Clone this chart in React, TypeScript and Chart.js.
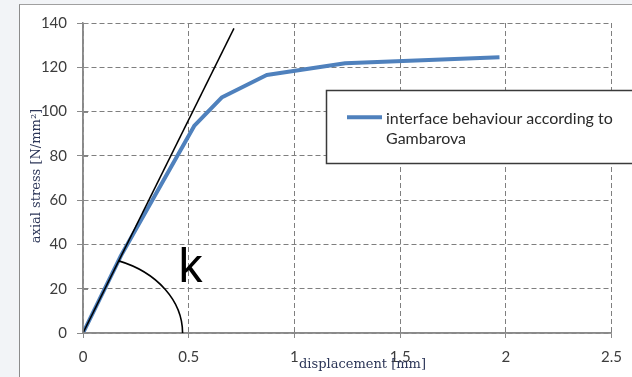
import React, { useEffect, useRef } from "react";
import { Chart, registerables } from "chart.js";

Chart.register(...registerables);

// ---- data ----
const SERIES_LABEL = "interface behaviour according to Gambarova";
const DISPLACEMENT = [0, 0.18, 0.526, 0.658, 0.869, 1.24, 1.97];
const STRESS = [0, 35, 93.5, 106.5, 116.5, 121.8, 124.5];

const TANGENT_X = [0, 0.714];
const TANGENT_Y = [0, 137.6];

const ARC_RX = 0.471; // mm
const ARC_RY = 34.9; // N/mm²
const K_LABEL = "k";
const K_POS = [0.452, 23.2];

const X_TICKS = [0, 0.5, 1, 1.5, 2, 2.5];
const X_TICK_LABELS = ["0", "0.5", "1", "1.5", "2", "2.5"];
const Y_TICKS = [0, 20, 40, 60, 80, 100, 120, 140];
const Y_TICK_LABELS = ["0", "20", "40", "60", "80", "100", "120", "140"];

const X_TITLE = "displacement [mm]";
const Y_TITLE = "axial stress [N/mm²]";

const LEGEND_LINES = ["interface behaviour according to", "Gambarova"];

const BLUE = "#4F81BD";
const GRID = "#7f7f7f";
const AXIS = "#8a8a8a";
const TICK_COLOR = "#3c3c3c";
const TITLE_COLOR = "#2b3557";

const decorPlugin = {
  id: "decor",
  afterDatasetsDraw(chart: any) {
    const ctx = chart.ctx;
    const xs = chart.scales.x;
    const ys = chart.scales.y;
    const cx = xs.getPixelForValue(0);
    const cy = ys.getPixelForValue(0);
    const area = chart.chartArea;

    // solid axis lines + inner half of y tick marks
    ctx.save();
    ctx.strokeStyle = AXIS;
    ctx.lineWidth = 1.5;
    ctx.setLineDash([]);
    ctx.beginPath();
    ctx.moveTo(cx, area.top);
    ctx.lineTo(cx, cy);
    ctx.lineTo(area.right, cy);
    ctx.stroke();
    ctx.lineWidth = 1;
    Y_TICKS.forEach((v) => {
      const py = Math.round(ys.getPixelForValue(v)) + 0.5;
      ctx.beginPath();
      ctx.moveTo(cx, py);
      ctx.lineTo(cx + 5, py);
      ctx.stroke();
    });
    ctx.restore();

    // angle arc
    const rx = xs.getPixelForValue(ARC_RX) - cx;
    const ry = cy - ys.getPixelForValue(ARC_RY);
    const dx = xs.getPixelForValue(TANGENT_X[1]) - cx;
    const dy = cy - ys.getPixelForValue(TANGENT_Y[1]);
    const t = Math.atan2(dy / ry, dx / rx);
    ctx.save();
    ctx.strokeStyle = "#000";
    ctx.lineWidth = 1.6;
    ctx.beginPath();
    ctx.ellipse(cx, cy, rx, ry, 0, -t, 0);
    ctx.stroke();

    // k label
    ctx.fillStyle = "#000";
    ctx.font = "48px 'Liberation Sans'";
    ctx.textAlign = "left";
    ctx.textBaseline = "alphabetic";
    ctx.fillText(K_LABEL, xs.getPixelForValue(K_POS[0]), ys.getPixelForValue(K_POS[1]));
    ctx.restore();
  },
  afterDraw(chart: any) {
    const ctx = chart.ctx;
    const ds = chart.data.datasets[1];
    // legend box
    const bx = 326.5, by = 90.5, bw = 310, bh = 73;
    ctx.save();
    ctx.fillStyle = "#fff";
    ctx.fillRect(bx, by, bw, bh);
    ctx.strokeStyle = "#3a3a3a";
    ctx.lineWidth = 1.5;
    ctx.strokeRect(bx, by, bw, bh);
    ctx.strokeStyle = ds.borderColor;
    ctx.lineWidth = 4;
    ctx.beginPath();
    ctx.moveTo(347, 117.3);
    ctx.lineTo(382, 117.3);
    ctx.stroke();
    ctx.fillStyle = "#2a2a2a";
    ctx.font = "16px Lato";
    ctx.textBaseline = "alphabetic";
    ctx.textAlign = "left";
    ctx.fillText(LEGEND_LINES[0], 386, 123.5);
    ctx.fillText(LEGEND_LINES[1], 386, 144);

    // axis titles
    ctx.fillStyle = TITLE_COLOR;
    ctx.font = "13px 'DejaVu Serif'";
    ctx.textAlign = "center";
    ctx.fillText(X_TITLE, 362.5, 368);
    ctx.translate(40, 176);
    ctx.rotate(-Math.PI / 2);
    ctx.fillText(Y_TITLE, 0, 0);
    ctx.restore();
  },
};

export default function App() {
  const ref = useRef<HTMLCanvasElement | null>(null);

  useEffect(() => {
    if (!ref.current) return;
    const chart = new Chart(ref.current, {
      type: "line",
      data: {
        datasets: [
          {
            label: "tangent",
            data: TANGENT_X.map((x, i) => ({ x, y: TANGENT_Y[i] })),
            borderColor: "#000",
            borderWidth: 1.5,
            pointRadius: 0,
            tension: 0,
            order: 0,
          },
          {
            label: SERIES_LABEL,
            data: DISPLACEMENT.map((x, i) => ({ x, y: STRESS[i] })),
            borderColor: BLUE,
            borderWidth: 4,
            pointRadius: 0,
            tension: 0,
            borderJoinStyle: "round",
            order: 1,
          },
        ],
      },
      options: {
        responsive: false,
        animation: false,
        layout: { padding: { left: 0, top: 23, right: 17, bottom: 0 } },
        plugins: {
          legend: { display: false },
          tooltip: { enabled: false },
          title: { display: false },
        },
        scales: {
          x: {
            type: "linear",
            min: 0,
            max: 2.5,
            afterBuildTicks: (s: any) => {
              s.ticks = X_TICKS.map((v) => ({ value: v }));
            },
            afterFit: (s: any) => {
              s.height = 44;
            },
            ticks: {
              callback: (_v: any, i: number) => X_TICK_LABELS[i],
              color: TICK_COLOR,
              font: { family: "Lato", size: 15 },
              padding: 10,
              maxRotation: 0,
            },
            grid: {
              color: GRID,
              lineWidth: 1,
              drawTicks: true,
              tickLength: 5,
              tickColor: AXIS,
              tickBorderDash: [],
            },
            border: { display: true, color: AXIS, width: 1.5, dash: [5, 3] },
          },
          y: {
            type: "linear",
            min: 0,
            max: 140,
            afterBuildTicks: (s: any) => {
              s.ticks = Y_TICKS.map((v) => ({ value: v }));
            },
            afterFit: (s: any) => {
              s.width = 83;
            },
            ticks: {
              callback: (_v: any, i: number) => Y_TICK_LABELS[i],
              color: TICK_COLOR,
              font: { family: "Lato", size: 15 },
              padding: 10,
            },
            grid: {
              color: GRID,
              lineWidth: 1,
              drawTicks: true,
              tickLength: 6,
              tickColor: AXIS,
              tickBorderDash: [],
            },
            border: { display: true, color: AXIS, width: 1.5, dash: [5, 3] },
          },
        },
      },
      plugins: [decorPlugin],
    } as any);
    return () => chart.destroy();
  }, []);

  return (
    <div
      style={{
        position: "fixed",
        left: 0,
        top: 0,
        width: 632,
        height: 377,
        background: "#f2f4f7",
        overflow: "hidden",
      }}
    >
      <div
        style={{
          position: "absolute",
          left: 19,
          top: 4,
          right: 0,
          bottom: 0,
          background: "#fff",
          borderLeft: "1px solid #8c8c8c",
          borderTop: "1px solid #a0a0a0",
        }}
      />
      <canvas
        ref={ref}
        width={632}
        height={377}
        style={{ position: "absolute", left: 0, top: 0, width: 632, height: 377 }}
      />
    </div>
  );
}
